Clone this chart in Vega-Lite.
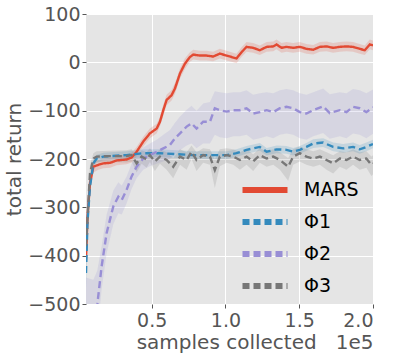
{
  "$schema": "https://vega.github.io/schema/vega-lite/v6.json",
  "width": 287,
  "height": 290,
  "autosize": {"type": "none"},
  "padding": {"left": 86, "top": 14, "right": 22, "bottom": 51},
  "background": "white",
  "data": {"values": [
    {"series":"MARS","x":0.055,"y":-408,"lo":-440,"hi":-380},
    {"series":"MARS","x":0.065,"y":-320,"lo":-345,"hi":-295},
    {"series":"MARS","x":0.082,"y":-250,"lo":-265,"hi":-235},
    {"series":"MARS","x":0.105,"y":-216,"lo":-228,"hi":-204},
    {"series":"MARS","x":0.139,"y":-212,"lo":-222,"hi":-202},
    {"series":"MARS","x":0.172,"y":-209,"lo":-219,"hi":-199},
    {"series":"MARS","x":0.218,"y":-208,"lo":-218,"hi":-198},
    {"series":"MARS","x":0.263,"y":-203,"lo":-213,"hi":-193},
    {"series":"MARS","x":0.33,"y":-201,"lo":-211,"hi":-191},
    {"series":"MARS","x":0.364,"y":-197,"lo":-207,"hi":-187},
    {"series":"MARS","x":0.398,"y":-185,"lo":-195,"hi":-175},
    {"series":"MARS","x":0.443,"y":-164,"lo":-174,"hi":-154},
    {"series":"MARS","x":0.488,"y":-147,"lo":-157,"hi":-137},
    {"series":"MARS","x":0.534,"y":-137,"lo":-147,"hi":-127},
    {"series":"MARS","x":0.556,"y":-123,"lo":-133,"hi":-113},
    {"series":"MARS","x":0.579,"y":-99,"lo":-110,"hi":-88},
    {"series":"MARS","x":0.601,"y":-78,"lo":-89,"hi":-67},
    {"series":"MARS","x":0.635,"y":-68,"lo":-79,"hi":-57},
    {"series":"MARS","x":0.658,"y":-54,"lo":-65,"hi":-43},
    {"series":"MARS","x":0.692,"y":-23,"lo":-34,"hi":-12},
    {"series":"MARS","x":0.725,"y":-3,"lo":-14,"hi":8},
    {"series":"MARS","x":0.759,"y":11,"lo":1,"hi":21},
    {"series":"MARS","x":0.782,"y":16,"lo":6,"hi":26},
    {"series":"MARS","x":0.827,"y":14,"lo":4,"hi":24},
    {"series":"MARS","x":0.872,"y":14,"lo":4,"hi":24},
    {"series":"MARS","x":0.917,"y":12,"lo":2,"hi":22},
    {"series":"MARS","x":0.962,"y":18,"lo":8,"hi":28},
    {"series":"MARS","x":1.008,"y":14,"lo":4,"hi":24},
    {"series":"MARS","x":1.041,"y":11,"lo":1,"hi":21},
    {"series":"MARS","x":1.075,"y":8,"lo":-2,"hi":18},
    {"series":"MARS","x":1.109,"y":21,"lo":11,"hi":31},
    {"series":"MARS","x":1.143,"y":32,"lo":22,"hi":42},
    {"series":"MARS","x":1.188,"y":30,"lo":20,"hi":40},
    {"series":"MARS","x":1.233,"y":25,"lo":15,"hi":35},
    {"series":"MARS","x":1.279,"y":32,"lo":22,"hi":42},
    {"series":"MARS","x":1.324,"y":33,"lo":23,"hi":43},
    {"series":"MARS","x":1.346,"y":37,"lo":27,"hi":47},
    {"series":"MARS","x":1.38,"y":30,"lo":20,"hi":40},
    {"series":"MARS","x":1.414,"y":32,"lo":22,"hi":42},
    {"series":"MARS","x":1.459,"y":30,"lo":20,"hi":40},
    {"series":"MARS","x":1.504,"y":32,"lo":22,"hi":42},
    {"series":"MARS","x":1.549,"y":28,"lo":18,"hi":38},
    {"series":"MARS","x":1.595,"y":26,"lo":16,"hi":36},
    {"series":"MARS","x":1.64,"y":32,"lo":22,"hi":42},
    {"series":"MARS","x":1.685,"y":33,"lo":23,"hi":43},
    {"series":"MARS","x":1.73,"y":30,"lo":20,"hi":40},
    {"series":"MARS","x":1.775,"y":32,"lo":22,"hi":42},
    {"series":"MARS","x":1.82,"y":33,"lo":23,"hi":43},
    {"series":"MARS","x":1.865,"y":32,"lo":22,"hi":42},
    {"series":"MARS","x":1.91,"y":28,"lo":18,"hi":38},
    {"series":"MARS","x":1.944,"y":25,"lo":15,"hi":35},
    {"series":"MARS","x":1.978,"y":37,"lo":27,"hi":47},
    {"series":"MARS","x":2.0,"y":35,"lo":25,"hi":45},

    {"series":"Φ1","x":0.055,"y":-436,"lo":-470,"hi":-400},
    {"series":"Φ1","x":0.065,"y":-330,"lo":-355,"hi":-305},
    {"series":"Φ1","x":0.082,"y":-257,"lo":-272,"hi":-242},
    {"series":"Φ1","x":0.105,"y":-209,"lo":-219,"hi":-199},
    {"series":"Φ1","x":0.127,"y":-199,"lo":-207,"hi":-191},
    {"series":"Φ1","x":0.172,"y":-195,"lo":-203,"hi":-187},
    {"series":"Φ1","x":0.218,"y":-194,"lo":-202,"hi":-186},
    {"series":"Φ1","x":0.33,"y":-192,"lo":-200,"hi":-184},
    {"series":"Φ1","x":0.443,"y":-188,"lo":-196,"hi":-180},
    {"series":"Φ1","x":0.556,"y":-188,"lo":-196,"hi":-180},
    {"series":"Φ1","x":0.669,"y":-190,"lo":-198,"hi":-182},
    {"series":"Φ1","x":0.782,"y":-192,"lo":-200,"hi":-184},
    {"series":"Φ1","x":0.895,"y":-192,"lo":-200,"hi":-184},
    {"series":"Φ1","x":1.008,"y":-192,"lo":-200,"hi":-184},
    {"series":"Φ1","x":1.075,"y":-188,"lo":-196,"hi":-180},
    {"series":"Φ1","x":1.143,"y":-181,"lo":-189,"hi":-173},
    {"series":"Φ1","x":1.233,"y":-175,"lo":-183,"hi":-167},
    {"series":"Φ1","x":1.279,"y":-185,"lo":-193,"hi":-177},
    {"series":"Φ1","x":1.346,"y":-180,"lo":-188,"hi":-172},
    {"series":"Φ1","x":1.414,"y":-181,"lo":-189,"hi":-173},
    {"series":"Φ1","x":1.459,"y":-185,"lo":-193,"hi":-177},
    {"series":"Φ1","x":1.504,"y":-181,"lo":-189,"hi":-173},
    {"series":"Φ1","x":1.549,"y":-175,"lo":-183,"hi":-167},
    {"series":"Φ1","x":1.595,"y":-168,"lo":-177,"hi":-159},
    {"series":"Φ1","x":1.662,"y":-166,"lo":-175,"hi":-157},
    {"series":"Φ1","x":1.73,"y":-175,"lo":-184,"hi":-166},
    {"series":"Φ1","x":1.798,"y":-178,"lo":-187,"hi":-169},
    {"series":"Φ1","x":1.865,"y":-175,"lo":-184,"hi":-166},
    {"series":"Φ1","x":1.91,"y":-180,"lo":-189,"hi":-171},
    {"series":"Φ1","x":1.955,"y":-175,"lo":-184,"hi":-166},
    {"series":"Φ1","x":2.0,"y":-169,"lo":-178,"hi":-160},

    {"series":"Φ2","x":0.055,"y":-600,"lo":-700,"hi":-445},
    {"series":"Φ2","x":0.105,"y":-560,"lo":-650,"hi":-450},
    {"series":"Φ2","x":0.132,"y":-500,"lo":-560,"hi":-430},
    {"series":"Φ2","x":0.161,"y":-422,"lo":-470,"hi":-380},
    {"series":"Φ2","x":0.195,"y":-353,"lo":-395,"hi":-315},
    {"series":"Φ2","x":0.24,"y":-298,"lo":-335,"hi":-265},
    {"series":"Φ2","x":0.274,"y":-278,"lo":-312,"hi":-248},
    {"series":"Φ2","x":0.297,"y":-285,"lo":-315,"hi":-255},
    {"series":"Φ2","x":0.33,"y":-264,"lo":-292,"hi":-236},
    {"series":"Φ2","x":0.364,"y":-236,"lo":-262,"hi":-210},
    {"series":"Φ2","x":0.398,"y":-216,"lo":-240,"hi":-192},
    {"series":"Φ2","x":0.443,"y":-199,"lo":-222,"hi":-176},
    {"series":"Φ2","x":0.488,"y":-192,"lo":-215,"hi":-168},
    {"series":"Φ2","x":0.534,"y":-185,"lo":-210,"hi":-160},
    {"series":"Φ2","x":0.579,"y":-178,"lo":-205,"hi":-150},
    {"series":"Φ2","x":0.624,"y":-171,"lo":-200,"hi":-140},
    {"series":"Φ2","x":0.658,"y":-157,"lo":-190,"hi":-125},
    {"series":"Φ2","x":0.692,"y":-147,"lo":-182,"hi":-112},
    {"series":"Φ2","x":0.737,"y":-133,"lo":-172,"hi":-98},
    {"series":"Φ2","x":0.77,"y":-126,"lo":-168,"hi":-90},
    {"series":"Φ2","x":0.804,"y":-137,"lo":-178,"hi":-100},
    {"series":"Φ2","x":0.849,"y":-123,"lo":-168,"hi":-85},
    {"series":"Φ2","x":0.895,"y":-123,"lo":-168,"hi":-82},
    {"series":"Φ2","x":0.928,"y":-95,"lo":-150,"hi":-60},
    {"series":"Φ2","x":0.962,"y":-99,"lo":-155,"hi":-62},
    {"series":"Φ2","x":1.008,"y":-102,"lo":-157,"hi":-64},
    {"series":"Φ2","x":1.053,"y":-99,"lo":-153,"hi":-62},
    {"series":"Φ2","x":1.098,"y":-99,"lo":-153,"hi":-62},
    {"series":"Φ2","x":1.143,"y":-95,"lo":-150,"hi":-58},
    {"series":"Φ2","x":1.188,"y":-106,"lo":-160,"hi":-67},
    {"series":"Φ2","x":1.233,"y":-103,"lo":-157,"hi":-64},
    {"series":"Φ2","x":1.279,"y":-99,"lo":-153,"hi":-62},
    {"series":"Φ2","x":1.324,"y":-103,"lo":-157,"hi":-64},
    {"series":"Φ2","x":1.369,"y":-95,"lo":-150,"hi":-58},
    {"series":"Φ2","x":1.414,"y":-92,"lo":-147,"hi":-55},
    {"series":"Φ2","x":1.459,"y":-95,"lo":-150,"hi":-58},
    {"series":"Φ2","x":1.504,"y":-103,"lo":-157,"hi":-64},
    {"series":"Φ2","x":1.549,"y":-106,"lo":-160,"hi":-67},
    {"series":"Φ2","x":1.595,"y":-99,"lo":-153,"hi":-62},
    {"series":"Φ2","x":1.662,"y":-91,"lo":-146,"hi":-54},
    {"series":"Φ2","x":1.707,"y":-105,"lo":-158,"hi":-66},
    {"series":"Φ2","x":1.775,"y":-99,"lo":-153,"hi":-62},
    {"series":"Φ2","x":1.82,"y":-103,"lo":-157,"hi":-64},
    {"series":"Φ2","x":1.865,"y":-92,"lo":-147,"hi":-55},
    {"series":"Φ2","x":1.91,"y":-95,"lo":-150,"hi":-58},
    {"series":"Φ2","x":1.955,"y":-103,"lo":-157,"hi":-64},
    {"series":"Φ2","x":2.0,"y":-93,"lo":-148,"hi":-56},

    {"series":"Φ3","x":0.055,"y":-380,"lo":-420,"hi":-340},
    {"series":"Φ3","x":0.082,"y":-230,"lo":-250,"hi":-212},
    {"series":"Φ3","x":0.105,"y":-199,"lo":-212,"hi":-188},
    {"series":"Φ3","x":0.127,"y":-195,"lo":-207,"hi":-184},
    {"series":"Φ3","x":0.218,"y":-194,"lo":-206,"hi":-183},
    {"series":"Φ3","x":0.33,"y":-194,"lo":-207,"hi":-182},
    {"series":"Φ3","x":0.364,"y":-192,"lo":-205,"hi":-180},
    {"series":"Φ3","x":0.398,"y":-209,"lo":-228,"hi":-195},
    {"series":"Φ3","x":0.432,"y":-195,"lo":-210,"hi":-182},
    {"series":"Φ3","x":0.466,"y":-201,"lo":-218,"hi":-186},
    {"series":"Φ3","x":0.488,"y":-192,"lo":-206,"hi":-178},
    {"series":"Φ3","x":0.522,"y":-205,"lo":-225,"hi":-190},
    {"series":"Φ3","x":0.556,"y":-195,"lo":-210,"hi":-180},
    {"series":"Φ3","x":0.601,"y":-202,"lo":-222,"hi":-186},
    {"series":"Φ3","x":0.646,"y":-216,"lo":-240,"hi":-198},
    {"series":"Φ3","x":0.692,"y":-195,"lo":-212,"hi":-180},
    {"series":"Φ3","x":0.737,"y":-202,"lo":-222,"hi":-186},
    {"series":"Φ3","x":0.77,"y":-185,"lo":-200,"hi":-172},
    {"series":"Φ3","x":0.804,"y":-202,"lo":-225,"hi":-186},
    {"series":"Φ3","x":0.849,"y":-192,"lo":-208,"hi":-178},
    {"series":"Φ3","x":0.895,"y":-195,"lo":-212,"hi":-180},
    {"series":"Φ3","x":0.928,"y":-223,"lo":-260,"hi":-200},
    {"series":"Φ3","x":0.962,"y":-195,"lo":-215,"hi":-180},
    {"series":"Φ3","x":1.008,"y":-192,"lo":-208,"hi":-178},
    {"series":"Φ3","x":1.053,"y":-195,"lo":-212,"hi":-180},
    {"series":"Φ3","x":1.098,"y":-202,"lo":-222,"hi":-186},
    {"series":"Φ3","x":1.143,"y":-195,"lo":-212,"hi":-180},
    {"series":"Φ3","x":1.188,"y":-205,"lo":-225,"hi":-190},
    {"series":"Φ3","x":1.233,"y":-192,"lo":-208,"hi":-178},
    {"series":"Φ3","x":1.279,"y":-199,"lo":-216,"hi":-184},
    {"series":"Φ3","x":1.324,"y":-195,"lo":-212,"hi":-180},
    {"series":"Φ3","x":1.369,"y":-202,"lo":-222,"hi":-186},
    {"series":"Φ3","x":1.425,"y":-216,"lo":-245,"hi":-198},
    {"series":"Φ3","x":1.459,"y":-195,"lo":-212,"hi":-180},
    {"series":"Φ3","x":1.504,"y":-188,"lo":-205,"hi":-174},
    {"series":"Φ3","x":1.549,"y":-195,"lo":-212,"hi":-180},
    {"series":"Φ3","x":1.595,"y":-199,"lo":-216,"hi":-184},
    {"series":"Φ3","x":1.64,"y":-195,"lo":-212,"hi":-180},
    {"series":"Φ3","x":1.685,"y":-202,"lo":-222,"hi":-186},
    {"series":"Φ3","x":1.73,"y":-209,"lo":-230,"hi":-192},
    {"series":"Φ3","x":1.775,"y":-199,"lo":-216,"hi":-184},
    {"series":"Φ3","x":1.82,"y":-202,"lo":-222,"hi":-186},
    {"series":"Φ3","x":1.865,"y":-195,"lo":-212,"hi":-180},
    {"series":"Φ3","x":1.91,"y":-202,"lo":-222,"hi":-186},
    {"series":"Φ3","x":1.955,"y":-199,"lo":-218,"hi":-184},
    {"series":"Φ3","x":1.989,"y":-212,"lo":-235,"hi":-195},
    {"series":"Φ3","x":2.0,"y":-209,"lo":-232,"hi":-192}
  ]},
  "layer": [
    {
      "mark": {"type": "area", "opacity": 0.18, "clip": true},
      "encoding": {
        "x": {"field": "x", "type": "quantitative"},
        "y": {"field": "lo", "type": "quantitative"},
        "y2": {"field": "hi"},
        "color": {"field": "series", "type": "nominal"},
        "detail": {"field": "series"}
      }
    },
    {
      "mark": {"type": "line", "clip": true, "strokeWidth": 2.4},
      "encoding": {
        "x": {"field": "x", "type": "quantitative",
          "scale": {"domain": [0.055, 2.0], "nice": false, "zero": false},
          "axis": {"values": [0.5, 1.0, 1.5, 2.0], "format": ".1f",
            "title": "samples collected\u00a0\u00a0\u00a01e5", "titleAnchor": "end"}},
        "y": {"field": "y", "type": "quantitative",
          "scale": {"domain": [-500, 100], "nice": false, "zero": false},
          "axis": {"values": [-500, -400, -300, -200, -100, 0, 100], "title": "total return"}},
        "color": {"field": "series", "type": "nominal",
          "scale": {"domain": ["MARS", "Φ1", "Φ2", "Φ3"], "range": ["#E24A33", "#348ABD", "#988ED5", "#777777"]},
          "legend": {
            "orient": "none", "legendX": 167, "legendY": 164, "title": null,
            "symbolType": "M-2.5,0H2.5", "symbolSize": 324, "symbolStrokeWidth": 6,
            "symbolOpacity": 1, "labelFontSize": 19, "labelColor": "#000000",
            "labelFont": "DejaVu Sans", "labelOffset": 27, "rowPadding": 8,
            "encode": {"symbols": {"update": {
              "strokeDash": {"signal": "datum.value === 'MARS' ? [1, 0] : [21, 9]"}}}}
          }},
        "strokeDash": {"field": "series", "type": "nominal",
          "scale": {"domain": ["MARS", "Φ1", "Φ2", "Φ3"], "range": [[1, 0], [7, 4], [7, 4], [7, 4]]},
          "legend": null}
      }
    }
  ],
  "config": {
    "view": {"fill": "#E5E5E5", "stroke": null},
    "axis": {
      "domain": false, "gridColor": "#FFFFFF", "gridWidth": 1, "gridOpacity": 1,
      "tickColor": "#555555", "tickSize": 4, "tickWidth": 1,
      "labelColor": "#555555", "labelFontSize": 19, "labelFont": "DejaVu Sans",
      "titleColor": "#555555", "titleFontSize": 20, "titleFont": "DejaVu Sans",
      "titleFontWeight": "normal"
    },
    "axisX": {"labelPadding": 3, "titlePadding": 2},
    "axisY": {"labelPadding": 2, "titlePadding": 3}
  }
}
